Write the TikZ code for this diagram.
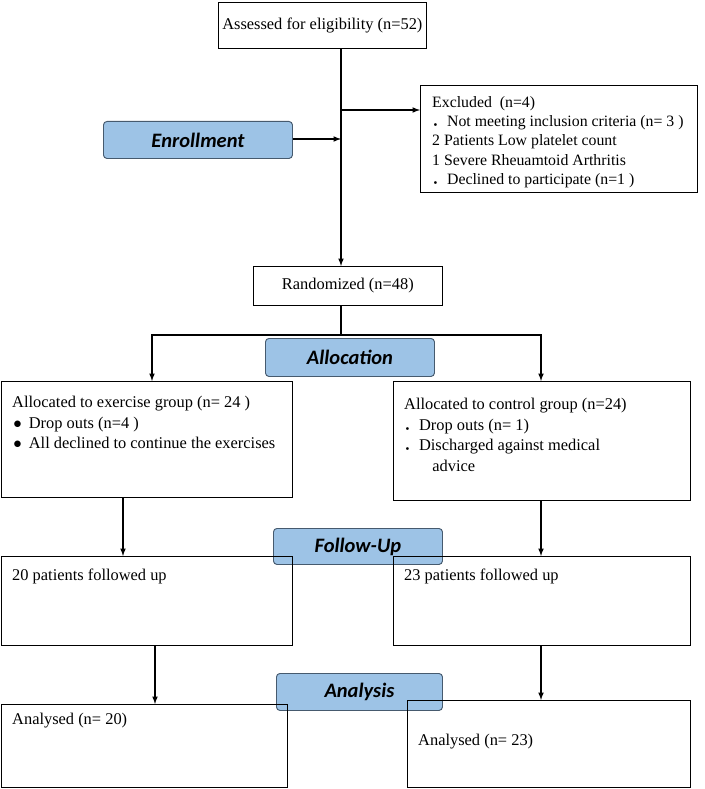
\documentclass[tikz,border=0pt]{standalone}
\usepackage{fontspec}
\setmainfont{Liberation Serif}
\newfontfamily\stagefont{Carlito}
\usetikzlibrary{positioning}
\definecolor{stageblue}{RGB}{157,195,230}
\definecolor{stageline}{RGB}{70,90,110}
\begin{document}
\begin{tikzpicture}[x=0.03cm,y=-0.03cm,>=latex]

    \tikzstyle{commonNode}=[draw=black, line width=0.6pt, inner sep=0pt]
    \tikzstyle{box}=[commonNode, rectangle, anchor=north west]
    \tikzstyle{stage}=[draw=stageline, line width=0.8pt, rounded corners=3pt, fill=stageblue,
        anchor=north west, inner sep=0pt, font=\stagefont\fontsize{17.5}{19}\selectfont\bfseries\itshape]
    \tikzstyle{boxText}=[anchor=north west, align=left, inner sep=0pt, font=\fontsize{14}{17.5}\selectfont]
    \tikzstyle{flow}=[->, line width=1.2pt]

    \useasboundingbox (0,0) rectangle (705,789);

    % Enrollment
    \node at (218,2) [box, minimum width=208*0.03cm, minimum height=46*0.03cm, font=\fontsize{14}{15}\selectfont] (assessed) {Assessed for eligibility (n=52)};
    \node at (420,85) [box, minimum width=277*0.03cm, minimum height=107*0.03cm] (excluded) {};
    \node at (432,96) [boxText, font=\fontsize{13.5}{16.5}\selectfont] (excludedText) {Excluded~ (n=4)\\
        \hspace*{1pt}{\tiny$\bullet$}\hspace{8pt}Not meeting inclusion criteria (n= 3 )\\
        2 Patients Low platelet count\\
        1 Severe Rheuamtoid Arthritis\\
        \hspace*{1pt}{\tiny$\bullet$}\hspace{8pt}Declined to participate (n=1 )};
    \node at (103,121) [stage, minimum width=189*0.03cm, minimum height=37*0.03cm] (enroll) {Enrollment};
    \node at (253,266) [box, minimum width=189*0.03cm, minimum height=39*0.03cm, font=\fontsize{14}{15}\selectfont] (random) {Randomized (n=48)};

    % Allocation
    \node at (265,338) [stage, minimum width=169*0.03cm, minimum height=38*0.03cm] (alloc) {Allocation};
    \node at (1,381) [box, minimum width=291*0.03cm, minimum height=116*0.03cm] (exAlloc) {};
    \node at (12,396) [boxText] (exAllocText) {Allocated to exercise group (n= 24 )\\
        \hspace*{1pt}$\bullet$\hspace{6pt}Drop outs (n=4 )\\
        \hspace*{1pt}$\bullet$\hspace{6pt}All declined to continue the exercises};
    \node at (393,381) [box, minimum width=297*0.03cm, minimum height=119*0.03cm] (ctAlloc) {};
    \node at (404,398) [boxText] (ctAllocText) {Allocated to control group (n=24)\\
        \hspace*{1pt}{\tiny$\bullet$}\hspace{8pt}Drop outs (n= 1)\\
        \hspace*{1pt}{\tiny$\bullet$}\hspace{8pt}Discharged against medical\\
        \hspace*{24pt}advice};

    % Follow-up
    \node at (273,528) [stage, minimum width=169*0.03cm, minimum height=36*0.03cm] (follow) {Follow-Up};
    \node at (1,556) [box, minimum width=291*0.03cm, minimum height=89*0.03cm] (exFollow) {};
    \node at (12,569) [boxText] (exFollowText) {20 patients followed up};
    \node at (393,556) [box, minimum width=297*0.03cm, minimum height=89*0.03cm] (ctFollow) {};
    \node at (404,569) [boxText] (ctFollowText) {23 patients followed up};

    % Analysis
    \node at (276,673) [stage, minimum width=166*0.03cm, minimum height=37*0.03cm] (analysis) {Analysis};
    \node at (1,704) [box, minimum width=286*0.03cm, minimum height=83*0.03cm] (exAnalysed) {};
    \node at (12,713) [boxText] (exAnalysedText) {Analysed (n= 20)};
    \node at (407,700) [box, minimum width=283*0.03cm, minimum height=87*0.03cm] (ctAnalysed) {};
    \node at (418,734) [boxText] (ctAnalysedText) {Analysed (n= 23)};

    % Connectors
    \coordinate (exclJoin) at (341,110);
    \coordinate (enrollJoin) at (341,139);
    \coordinate (split) at (341,335);
    \draw[flow] (assessed.south -| exclJoin) -- (random.north -| exclJoin);
    \draw[flow] (exclJoin) -- (exclJoin -| excluded.west);
    \draw[flow] (enroll.east |- enrollJoin) -- (enrollJoin);
    \draw[line width=1.2pt] (random.south -| split) -- (split);
    \draw[flow] (split) -- (152,335) -- (152,381);
    \draw[flow] (split) -- (541,335) -- (541,381);
    \draw[flow] (123,497) -- (123,556);
    \draw[flow] (541,500) -- (541,556);
    \draw[flow] (155,645) -- (155,704);
    \draw[flow] (541,645) -- (541,700);
\end{tikzpicture}
\end{document}
